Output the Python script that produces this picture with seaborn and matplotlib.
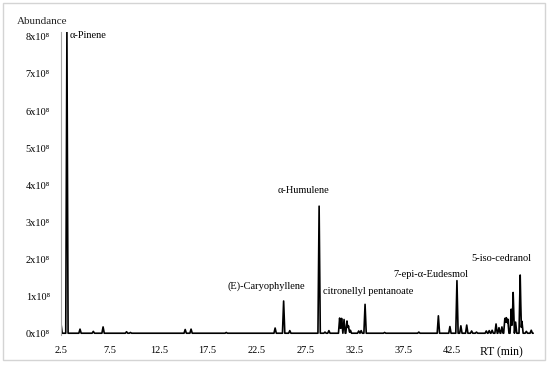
import numpy as np
import pandas as pd
import matplotlib
matplotlib.use("Agg")
import matplotlib.pyplot as plt
from matplotlib.patches import Rectangle
import seaborn as sns

# peak apexes: retention time (min), abundance (x1e8)
peak_rt = [2.5, 3.1, 4.44, 5.8, 6.8, 9.2, 9.6, 15.2, 15.8, 19.4,
           24.4, 25.27, 25.9, 28.9, 29.5, 29.9, 31.0, 31.2, 31.45, 31.75,
           31.9, 32.1, 32.95, 33.2, 33.6, 35.6, 39.1, 41.1, 42.28, 43.0,
           43.4, 44.0, 44.5, 45.0, 46.0, 46.3, 46.6, 47.0, 47.3, 47.6,
           47.9, 48.05, 48.2, 48.55, 48.75, 49.0, 49.47, 49.65, 50.1, 50.6]
peak_abundance = [0.25, 8.15, 0.11, 0.05, 0.17, 0.04, 0.02, 0.10, 0.11, 0.02,
                  0.14, 0.87, 0.07, 3.43, 0.03, 0.07, 0.41, 0.40, 0.37, 0.33,
                  0.20, 0.08, 0.06, 0.07, 0.78, 0.02, 0.03, 0.47, 0.18, 1.42,
                  0.20, 0.22, 0.06, 0.03, 0.06, 0.07, 0.08, 0.25, 0.15, 0.17,
                  0.40, 0.42, 0.38, 0.65, 1.10, 0.30, 1.57, 0.32, 0.05, 0.08]
rt_start, rt_end = 2.5, 50.8

peak_labels = ["α-Pinene", "(E)-Caryophyllene", "α-Humulene",
               "citronellyl pentanoate", "7-epi-α-Eudesmol", "5-iso-cedranol"]
label_rt = [3.42, 23.5, 27.3, 29.3, 40.3, 47.55]
label_y = [8.03, 1.27, 3.85, 1.12, 1.58, 2.03]
label_ha = ["left", "center", "center", "left", "center", "center"]

xtick_pos = [2.5, 7.5, 12.5, 17.5, 22.5, 27.5, 32.5, 37.5, 42.5, 47.5]
xtick_text = ["2.5", "7.5", "12.5", "17.5", "22.5", "27.5", "32.5",
              "37.5", "42.5", "RT (min)"]
ytick_pos = list(range(9))
ytick_text = [f"{i}x10⁸" for i in ytick_pos]

# build the trace as narrow triangular peaks on a flat baseline
half_w = 0.12
rt = np.array(peak_rt)
ab = np.array(peak_abundance)
knots = np.unique(np.concatenate([[rt_start, rt_end], rt - half_w, rt, rt + half_w]))
knots = knots[(knots >= rt_start) & (knots <= rt_end)]
signal = np.zeros_like(knots)
for t, h in zip(rt, ab):
    signal += h * np.clip(1 - np.abs(knots - t) / half_w, 0, None)
trace = pd.DataFrame({"rt": knots, "abundance": signal})

sns.set_theme(style="white")
plt.rcParams["font.family"] = ["Liberation Serif", "DejaVu Serif"]

fig = plt.figure(figsize=(5.5, 3.65), dpi=100)
ax = fig.add_axes([0.111, 0.082, 0.862, 0.830])

sns.lineplot(data=trace, x="rt", y="abundance", color="black", lw=1.2,
             estimator=None, sort=False, ax=ax)

for text, x, y, ha in zip(peak_labels, label_rt, label_y, label_ha):
    ax.text(x, y, text, ha=ha, va="center", fontsize=7.5, color="black")

ax.set_xlim(2.5, 51)
ax.set_ylim(-0.05, 8.13)
ax.set_xticks(xtick_pos)
ax.set_xticklabels(xtick_text, fontsize=7.5)
ax.set_yticks(ytick_pos)
ax.set_yticklabels(ytick_text, fontsize=7.5)
ax.get_xticklabels()[-1].set_fontsize(8.5)
ax.tick_params(axis="both", length=0, colors="black")
ax.tick_params(axis="x", pad=8)
ax.tick_params(axis="y", pad=8)
ax.set_xlabel("")
ax.set_ylabel("")
for side in ["top", "right", "bottom"]:
    ax.spines[side].set_visible(False)
ax.spines["left"].set_color("#a8a8a8")
ax.spines["left"].set_linewidth(0.8)

fig.text(0.031, 0.942, "Abundance", fontsize=8, va="center", ha="left")
fig.patches.append(Rectangle((0.0055, 0.0137), 0.985, 0.978, transform=fig.transFigure,
                             fill=False, edgecolor="#d4d4d4", lw=1.0))

fig.savefig("out.png", dpi=100)
plt.close(fig)
